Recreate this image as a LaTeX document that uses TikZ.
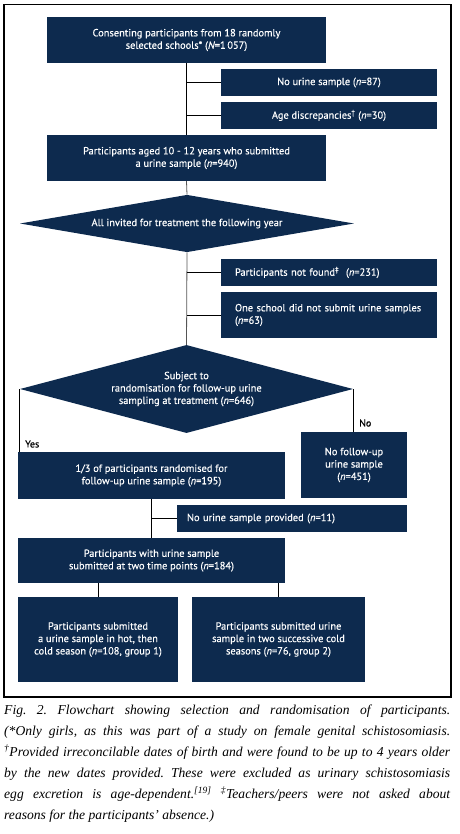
\documentclass[tikz,border=0pt]{standalone}
\usepackage{fontspec}
\newfontfamily\boxfont[FakeBold=0.4]{PT Sans}
\newfontfamily\capfont{Liberation Serif}
\usetikzlibrary{shapes.geometric}
\definecolor{fnavy}{HTML}{0D2A4E}
\definecolor{fgrey}{HTML}{555555}
\newcommand{\nn}[1]{({\itshape n}=#1)}

\begin{document}
\begin{tikzpicture}[x=1pt,y=-1pt,
  flowbox/.style={fill=fnavy, text=white, inner sep=0pt, align=center, font=\boxfont\fontsize{10.4}{12.4}\selectfont},
  sidebox/.style={flowbox, align=left, minimum height=27pt},
  decision/.style={flowbox, diamond, aspect=4},
  link/.style={line width=0.8pt},
  lbl/.style={font=\boxfont\fontsize{10}{12}\selectfont, inner sep=0pt}]
 \useasboundingbox (0,0) rectangle (459,834);
 \draw[line width=1.2pt] (4,4.5) rectangle (451,697);
 \node[flowbox, minimum width=279pt, minimum height=46pt] (start) at (186.5,40) {Consenting participants from 18 randomly\\selected schools* ({\itshape N}=1\,057)};
 \node[flowbox, minimum width=216pt, minimum height=27pt] (nourine) at (329,82.5) {No urine sample \nn{87}};
 \node[flowbox, minimum width=216pt, minimum height=27pt] (agedisc) at (329,115.5) {Age discrepancies\textsuperscript{\textdagger} \nn{30}};
 \node[flowbox, minimum width=279pt, minimum height=46pt] (aged) at (186.5,158) {Participants aged 10 - 12 years who submitted\\a urine sample \nn{940}};
 \node[decision, minimum width=334pt, minimum height=57pt] (invited) at (187,223.5) {All invited for treatment the following year};
 \node[sidebox, minimum width=216pt, text width=188pt] (notfound) at (329,272.5) {Participants not found\textsuperscript{\textdaggerdbl}~ \nn{231}};
 \node[sidebox, minimum width=216pt, minimum height=46pt, text width=188pt] (oneschool) at (329,315) {One school did not submit urine samples\\\nn{63}};
 \node[decision, minimum width=333pt, minimum height=88pt] (subject) at (186.5,389) {Subject to\\randomisation for follow-up urine\\sampling at treatment \nn{646}};
 \node[flowbox, minimum width=267pt, minimum height=47pt] (random) at (151.5,475.5) {1/3 of participants randomised for\\follow-up urine sample \nn{195}};
 \node[flowbox, minimum width=106pt, minimum height=66pt] (nofollow) at (354,465) {No follow-up\\urine sample\\\nn{451}};
 \node[sidebox, minimum width=230pt, text width=210pt] (noprovided) at (292,518.5) {No urine sample provided \nn{11}};
 \node[flowbox, minimum width=267pt, minimum height=45pt] (twopoints) at (151.5,560.5) {Participants with urine sample\\submitted at two time points \nn{184}};
 \node[flowbox, minimum width=160pt, minimum height=85pt] (group1) at (98,639.5) {Participants submitted\\a urine sample in hot, then\\cold season \nn{108, group 1}};
 \node[flowbox, minimum width=173pt, minimum height=85pt] (group2) at (278.5,639.5) {Participants submitted urine\\sample in two successive cold\\seasons \nn{76, group 2}};
 \draw[link] (start.south) -- (aged.north);
 \draw[link] (start.south |- nourine.west) -- (nourine.west);
 \draw[link] (start.south |- agedisc.west) -- (agedisc.west);
 \draw[link, fgrey] (aged.south) -- (invited.north);
 \draw[link, fgrey] (invited.south) -- (subject.north);
 \draw[link] (invited.south |- notfound.west) -- (notfound.west);
 \draw[link] (invited.south |- oneschool.west) -- (oneschool.west);
 \draw[link] (subject.west) -- (subject.west |- random.north);
 \draw[link] (subject.east) -- (subject.east |- nofollow.north);
 \node[lbl, anchor=west] (yes) at (25,444) {Yes};
 \node[lbl, anchor=west] (no) at (359,423) {No};
 \draw[link] (random.south) -- (twopoints.north);
 \draw[link] (random.south |- noprovided.west) -- (noprovided.west);
 \draw[link] (group1.north) -- (group1.north |- twopoints.south);
 \draw[link] (group2.north) -- (group2.north |- twopoints.south);
 \node[anchor=north west, inner sep=0pt, text width=446pt, align=justify, font=\capfont\itshape\frenchspacing\fontsize{13.6}{20.9}\selectfont] (caption) at (4,705) {Fig.~2. Flowchart showing selection and randomisation of participants.\linebreak
 (*Only girls, as this was part of a study on female genital schistosomiasis.\linebreak
 \textsuperscript{\textdagger}Provided irreconcilable dates of birth and were found to be up to 4 years older\linebreak
 by the new dates provided. These were excluded as urinary schistosomiasis\linebreak
 egg excretion is age-dependent.\textsuperscript{[19]} \textsuperscript{\textdaggerdbl}Teachers/peers were not asked about\linebreak
 reasons for the participants’ absence.)};
\end{tikzpicture}
\end{document}
